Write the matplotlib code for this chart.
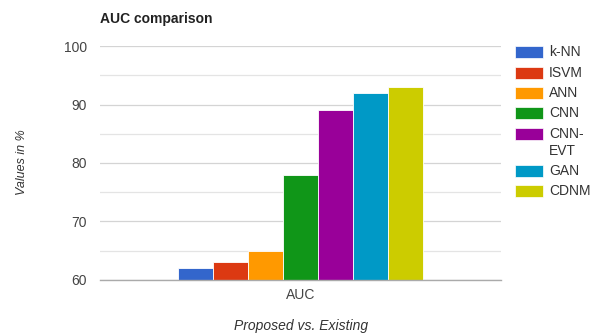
import matplotlib
matplotlib.use("Agg")
import matplotlib.pyplot as plt
from matplotlib.patches import Rectangle

methods = ["k-NN", "ISVM", "ANN", "CNN", "CNN-\nEVT", "GAN", "CDNM"]
values = [62, 63, 65, 78, 89, 92, 93]
colors = ["#3366cc", "#dc3912", "#ff9900", "#109618", "#990099", "#0099c6", "#cccc00"]
category = "AUC"
yticks = [60, 70, 80, 90, 100]

plt.rcParams['font.family'] = ['Liberation Sans', 'DejaVu Sans']

fig = plt.figure(figsize=(6, 3.34), dpi=100)
ax = fig.add_axes([100/600, 1-280/334, 401/600, 234/334])

n = len(values)
xs = [i - (n - 1) / 2 for i in range(n)]
ax.bar(xs, [v - 60 for v in values], bottom=60, width=1.0, color=colors,
       edgecolor="white", linewidth=0.6, zorder=3)

ax.set_ylim(60, 100)
half = n / 0.613 / 2
ax.set_xlim(-half, half)
ax.set_yticks(yticks)
ax.set_yticks([65, 75, 85, 95], minor=True)
ax.tick_params(axis='y', which='both', length=0, labelsize=10, labelcolor="#444444", pad=9.5)
ax.set_xticks([0])
ax.set_xticklabels([category])
ax.tick_params(axis='x', length=0, labelsize=10, labelcolor="#444444", pad=6)
ax.grid(axis='y', which='major', color="#d4d4d4", linewidth=0.9, zorder=0)
ax.grid(axis='y', which='minor', color="#e4e4e4", linewidth=0.9, zorder=0)
for s in ["top", "right", "left"]:
    ax.spines[s].set_visible(False)
ax.spines["bottom"].set_color("#aaaaaa")
ax.spines["bottom"].set_linewidth(1.0)
ax.spines["bottom"].set_zorder(4)

fig.text(100/600, 1-19/334, "AUC comparison", fontsize=10, fontweight="bold",
         color="#222222", va="center", ha="left")
fig.text(22/600, 1-162/334, "Values in %", fontsize=9, style="italic",
         color="#333333", rotation=90, va="center", ha="center")
fig.text(301/600, 1-326/334, "Proposed vs. Existing", fontsize=10, style="italic",
         color="#333333", va="center", ha="center")

ys = [52, 73, 93, 113, 134, 171, 191]
for m, c, y in zip(methods, colors, ys):
    fig.add_artist(Rectangle((515/600, 1-(y+6)/334), 28/600, 12/334,
                             transform=fig.transFigure, facecolor=c, edgecolor="white", lw=0.5))
    if "\n" in m:
        fig.text(549/600, 1-(y-7)/334, m, fontsize=10, color="#333333", va="top",
                 ha="left", linespacing=1.3)
    else:
        fig.text(549/600, 1-y/334, m, fontsize=10, color="#333333", va="center", ha="left")

fig.savefig("out.png", dpi=100, facecolor="white")
